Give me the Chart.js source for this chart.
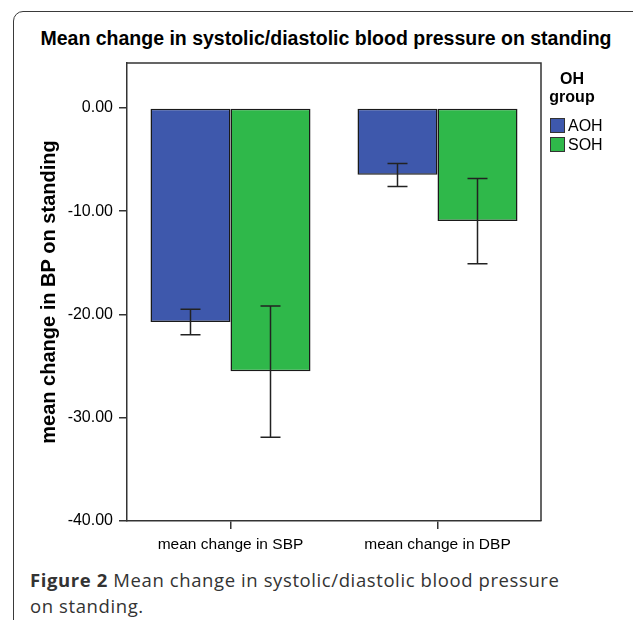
<!DOCTYPE html>
<html>
<head>
<meta charset="utf-8">
<script src="https://cdn.jsdelivr.net/npm/chart.js@4/dist/chart.umd.min.js"></script>
<style>
  html, body { margin: 0; padding: 0; background: #fff; overflow: hidden; }
  body { width: 633px; height: 620px; position: relative; }
  #frame {
    position: absolute; left: 13px; top: 11px; width: 700px; height: 700px;
    border: 1.5px solid #3a3a3a; border-radius: 10px; box-sizing: border-box;
  }
  #title {
    position: absolute; left: 0; top: 26px; width: 652px; text-align: center;
    font-family: "Liberation Sans", Arial, sans-serif; font-weight: bold; font-size: 19.5px; line-height: 24px; color: #000;
  }
  #wrap { position: absolute; left: 0; top: 0; width: 633px; height: 560px; }
  #legend { position: absolute; left: 546px; top: 70px; width: 70px; font-family: "Liberation Sans", Arial, sans-serif; }
  #legend .head { font-weight: bold; font-size: 16px; line-height: 18px; text-align: center; width: 52px; }
  #legend .item { position: relative; height: 19px; font-size: 16px; line-height: 19px; padding-left: 22px; }
  #legend .box { position: absolute; left: 4px; top: 2px; width: 13px; height: 13px; border: 1.5px solid #333; }
  #legend .list { margin-top: 10px; }
  #caption {
    position: absolute; left: 30px; top: 567px; width: 535px;
    font-family: "Open Sans", sans-serif; font-size: 18.5px; letter-spacing: 0.6px; line-height: 26px; color: #333;
  }
</style>
</head>
<body>
<div id="frame"></div>
<div id="title">Mean change in systolic/diastolic blood pressure on standing</div>
<div id="wrap"><canvas id="myChart"></canvas></div>
<div id="legend">
  <div class="head">OH<br>group</div>
  <div class="list" id="legendList"></div>
</div>
<div id="caption"><b>Figure 2</b> Mean change in systolic/diastolic blood pressure on standing.</div>
<script>
const categories = ['mean change in SBP', 'mean change in DBP'];
const groups = ['AOH', 'SOH'];
const groupColors = ['#3e58ac', '#2fb84a'];

// means and error bar ends
const aohMean = [-20.74, -6.48];
const sohMean = [-25.5, -10.94];
const aohLow = [-21.97, -7.61];
const aohHigh = [-19.5, -5.39];
const sohLow = [-31.9, -15.1];
const sohHigh = [-19.17, -6.84];

const yTicks = [-40, -30, -20, -10, 0];

const lows = [aohLow, sohLow];
const highs = [aohHigh, sohHigh];

// legend built from the groups
const legendList = document.getElementById('legendList');
groups.forEach((g, i) => {
    const item = document.createElement('div');
    item.className = 'item';
    item.innerHTML = '<span class="box" style="background:' + groupColors[i] + '"></span>' + g;
    legendList.appendChild(item);
});

// box round the plot (top and right sides)
const frameBox = {
    id: 'frameBox',
    afterDraw(chart) {
        const { ctx, chartArea: a } = chart;
        ctx.save();
        ctx.strokeStyle = '#333';
        ctx.lineWidth = 1.5;
        ctx.beginPath();
        ctx.moveTo(a.left, a.top);
        ctx.lineTo(a.right, a.top);
        ctx.lineTo(a.right, a.bottom);
        ctx.stroke();
        ctx.restore();
    }
};

// error bars
const errorBars = {
    id: 'errorBars',
    afterDatasetsDraw(chart) {
        const { ctx } = chart;
        const y = chart.scales.y;
        ctx.save();
        ctx.strokeStyle = '#222';
        ctx.lineWidth = 1.5;
        chart.data.datasets.forEach((ds, di) => {
            const meta = chart.getDatasetMeta(di);
            meta.data.forEach((bar, i) => {
                const x = bar.x;
                const yLo = y.getPixelForValue(lows[di][i]);
                const yHi = y.getPixelForValue(highs[di][i]);
                ctx.beginPath();
                ctx.moveTo(x, yLo);
                ctx.lineTo(x, yHi);
                ctx.moveTo(x - 10, yLo);
                ctx.lineTo(x + 10, yLo);
                ctx.moveTo(x - 10, yHi);
                ctx.lineTo(x + 10, yHi);
                ctx.stroke();
            });
        });
        ctx.restore();
    }
};

const ctx = document.getElementById('myChart').getContext('2d');

new Chart(ctx, {
    type: 'bar',
    data: {
        labels: categories,
        datasets: [
            { label: groups[0], data: aohMean, backgroundColor: groupColors[0] },
            { label: groups[1], data: sohMean, backgroundColor: groupColors[1] }
        ]
    },
    options: {
        responsive: true,
        maintainAspectRatio: false,
        animation: false,
        layout: { padding: { left: 0, right: 92, top: 63, bottom: 0 } },
        datasets: {
            bar: {
                categoryPercentage: 0.773,
                barPercentage: 1,
                borderColor: '#1a1a1a',
                borderWidth: 1.5,
                borderSkipped: false
            }
        },
        plugins: {
            legend: { display: false },
            tooltip: { enabled: false }
        },
        scales: {
            x: {
                grid: { offset: false, drawOnChartArea: false, tickLength: 8, color: '#333', lineWidth: 1.5 },
                border: { color: '#333', width: 1.5 },
                ticks: {
                    color: '#000',
                    padding: 6,
                    font: { family: 'Liberation Sans', size: 15.5 }
                },
                afterFit(scale) { scale.height = 39; }
            },
            y: {
                min: -40,
                max: 4.35,
                afterBuildTicks(scale) { scale.ticks = yTicks.map(v => ({ value: v })); },
                grid: { drawOnChartArea: false, tickLength: 8, color: '#333', lineWidth: 1.5 },
                border: { color: '#333', width: 1.5 },
                ticks: {
                    color: '#000',
                    padding: 6,
                    font: { family: 'Liberation Sans', size: 16 },
                    callback: v => v.toFixed(2)
                },
                title: {
                    display: true,
                    text: 'mean change in BP on standing',
                    color: '#000',
                    font: { family: 'Liberation Sans', size: 20, weight: 'bold' },
                    padding: { top: 37, bottom: 0 }
                },
                afterFit(scale) { scale.width = 127; }
            }
        }
    },
    plugins: [frameBox, errorBars]
});
</script>
</body>
</html>
